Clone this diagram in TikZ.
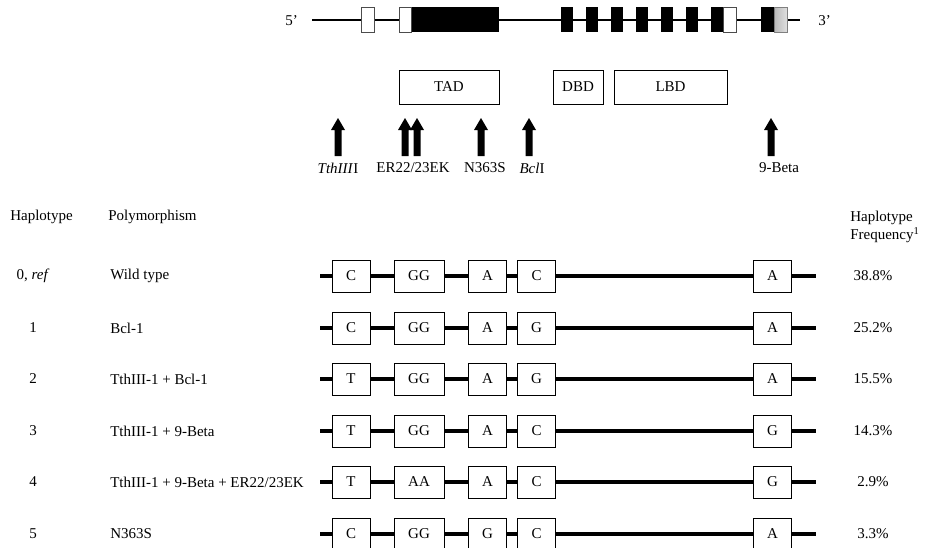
\documentclass[tikz,border=0pt]{standalone}
\usepackage{fontspec}
\setmainfont{Liberation Serif}
\begin{document}
\begin{tikzpicture}[x=0.75pt,y=-0.75pt,
  every node/.style={font=\fontsize{11.25}{13.5}\selectfont, inner sep=0pt},
  gline/.style={line width=1.9pt},
  rline/.style={line width=3pt},
  exw/.style={draw=gray!60!black, fill=white, line width=0.6pt},
  exb/.style={fill=black},
  dom/.style={draw, line width=0.6pt, minimum height=25.5pt},
  snp/.style={draw, fill=white, line width=0.6pt, minimum width=28.5pt, minimum height=24pt},
  uparrow/.pic={\fill (0,0) -- (7,12) -- (3.5,12) -- (3.5,38) -- (-3.5,38) -- (-3.5,12) -- (-7,12) -- cycle;}
]
\useasboundingbox (0,0) rectangle (928,547);

% gene structure
\coordinate (g5) at (312,20);
\coordinate (g3) at (800,20);
\draw[gline] (g5) -- (g3);
\node[anchor=west] (five) at (285,21) {5’};
\node[anchor=west] (three) at (818,21) {3’};
\draw[exw] (361,7) rectangle (374,32);
\fill[exb] (411,7) rectangle (499,32);
\draw[exw] (399,7) rectangle (411,32);
\foreach \x in {561,586,611,636,661,686,711}
  \fill[exb] (\x,7) rectangle ++(12,25);
\draw[exw] (723,7) rectangle (736,32);
\fill[exb] (761,7) rectangle (774,32);
\shade[left color=gray!55, right color=gray!25] (774,7) rectangle (787,32);
\draw[gray, line width=0.4pt] (774,7) rectangle (787,32);

% domains
\node[dom, minimum width=75pt] (tad) at (449,87) {TAD};
\node[dom, minimum width=37.5pt] (dbd) at (578,87) {DBD};
\node[dom, minimum width=84.75pt] (lbd) at (670.5,87) {LBD};

% polymorphism arrows
\pic (ar1) at (338,118) {uparrow};
\pic (ar2) at (405,118) {uparrow};
\pic (ar3) at (417,118) {uparrow};
\pic (ar4) at (481,118) {uparrow};
\pic (ar5) at (529,118) {uparrow};
\pic (ar6) at (771,118) {uparrow};
\node (lt) at (338,168) {\textit{TthIII}I};
\node (le) at (413,168) {ER22/23EK};
\node (ln) at (485,168) {N363S};
\node (lb) at (532,168) {\textit{Bcl}I};
\node (l9) at (779,168) {9-Beta};

% headers
\node[anchor=west] (h1) at (10,217) {Haplotype};
\node[anchor=west] (h2) at (108,217) {Polymorphism};
\node[anchor=west] (h3) at (850,218) {Haplotype};
\node[anchor=west] (h4) at (850,235) {Frequency\textsuperscript{1}};

\newcommand\hrow[9]{%
  \node (n#1) at (33,#1) {#2};
  \node[anchor=west] (p#1) at (110,#1) {#3};
  \coordinate (s#1) at (320,#1);
  \coordinate (e#1) at (816,#1);
  \node[snp] (a#1) at (351,#1) {#4};
  \node[snp, minimum width=37.5pt] (b#1) at (419,#1) {#5};
  \node[snp] (c#1) at (487.5,#1) {#6};
  \node[snp] (d#1) at (536.5,#1) {#7};
  \node[snp] (f#1) at (772.5,#1) {#8};
  \node (q#1) at (873,#1) {#9};
  \draw[rline] (s#1) -- (a#1.west) (a#1.east) -- (b#1.west) (b#1.east) -- (c#1.west)
    (c#1.east) -- (d#1.west) (d#1.east) -- (f#1.west) (f#1.east) -- (e#1);
}
\hrow{276}{0, \textit{ref}}{Wild type}{C}{GG}{A}{C}{A}{38.8\%}
\hrow{328}{1}{Bcl-1}{C}{GG}{A}{G}{A}{25.2\%}
\hrow{379}{2}{TthIII-1 + Bcl-1}{T}{GG}{A}{G}{A}{15.5\%}
\hrow{431}{3}{TthIII-1 + 9-Beta}{T}{GG}{A}{C}{G}{14.3\%}
\hrow{482}{4}{TthIII-1 + 9-Beta + ER22/23EK}{T}{AA}{A}{C}{G}{2.9\%}
\hrow{534}{5}{N363S}{C}{GG}{G}{C}{A}{3.3\%}
\end{tikzpicture}
\end{document}
